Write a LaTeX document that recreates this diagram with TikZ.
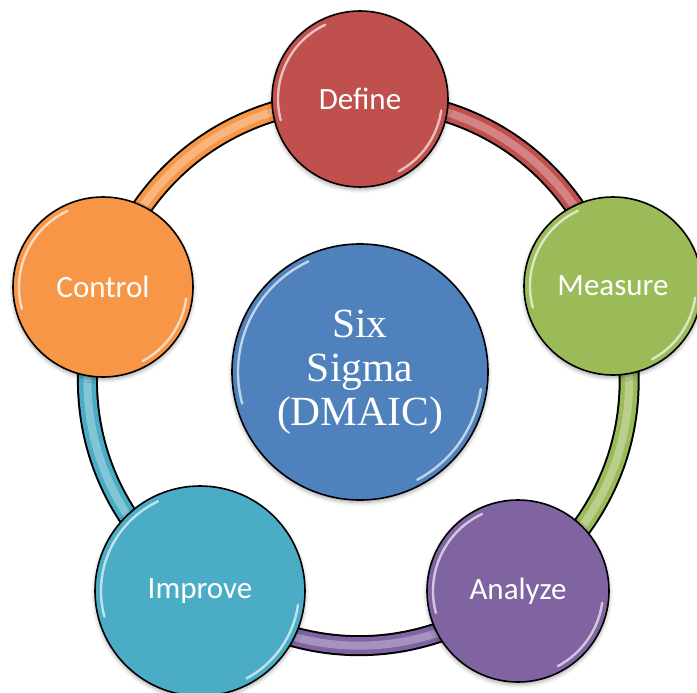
\documentclass[tikz,border=0pt]{standalone}
\usepackage{fontspec}
\setmainfont{Liberation Serif}
\newfontfamily\labelfont{Carlito}
\usetikzlibrary{shadows.blur}
\pgfdeclarelayer{background}
\pgfsetlayers{background,main}

\definecolor{defineRed}{HTML}{C0504D}
\definecolor{measureGreen}{HTML}{9BBB59}
\definecolor{analyzePurple}{HTML}{8064A2}
\definecolor{improveTeal}{HTML}{4BACC6}
\definecolor{controlOrange}{HTML}{F79646}
\definecolor{coreBlue}{HTML}{4F81BD}

\tikzset{
  phase/.style={circle, draw=black, line width=1.6pt, text=white, inner sep=0pt,
    font=\labelfont\fontsize{31}{36}\selectfont,
    blur shadow={shadow xshift=0pt, shadow yshift=-2.5pt, shadow blur radius=4pt, shadow opacity=35}},
  core/.style={phase, font=\fontsize{41.5}{44}\selectfont, align=center},
  gloss/.style={white, line width=2.4pt, opacity=0.65, line cap=round},
  tube outline/.style={black, line width=21pt},
  tube body/.style={line width=17pt},
  tube shine/.style={line width=8pt, opacity=0.5},
}

\begin{document}
\begin{tikzpicture}[x=1pt, y=1pt]
  \useasboundingbox (0,0) rectangle (697,-693);

  % the five DMAIC phases and the hub
  \node[phase, fill=defineRed,     minimum size=176pt] (define)  at (360,-99)  {Define};
  \node[phase, fill=measureGreen,  minimum size=178pt] (measure) at (613,-286) {Measure};
  \node[phase, fill=analyzePurple, minimum size=182pt] (analyze) at (518,-591) {Analyze};
  \node[phase, fill=improveTeal,   minimum size=210pt] (improve) at (200,-591) {Improve};
  \node[phase, fill=controlOrange, minimum size=180pt] (control) at (103,-287) {Control};
  \node[core,  fill=coreBlue,      minimum size=256pt] (hub)     at (360,-372) {Six\\Sigma\\(DMAIC)};

  % glossy rim highlights
  \foreach \n/\r in {define/88, measure/89, analyze/91, improve/105, control/90, hub/128}{
    \pgfmathsetmacro\rr{\r-6}
    \draw[gloss] (\n.center) ++(115:\rr pt) arc[start angle=115, end angle=195, radius=\rr pt];
    \draw[gloss] (\n.center) ++(-62:\rr pt) arc[start angle=-62, end angle=-8, radius=\rr pt];
  }

  % ring of tubes joining consecutive phases
  \begin{pgfonlayer}{background}
    \foreach \a/\b/\c in {define/measure/defineRed, measure/analyze/measureGreen,
        analyze/improve/analyzePurple, improve/control/improveTeal, control/define/controlOrange}{
      \draw[tube outline] (\a.center) to[bend left=36] (\b.center);
      \draw[tube body, \c] (\a.center) to[bend left=36] (\b.center);
      \draw[tube shine, \c!40!white] (\a.center) to[bend left=36] (\b.center);
    }
  \end{pgfonlayer}
\end{tikzpicture}
\end{document}
